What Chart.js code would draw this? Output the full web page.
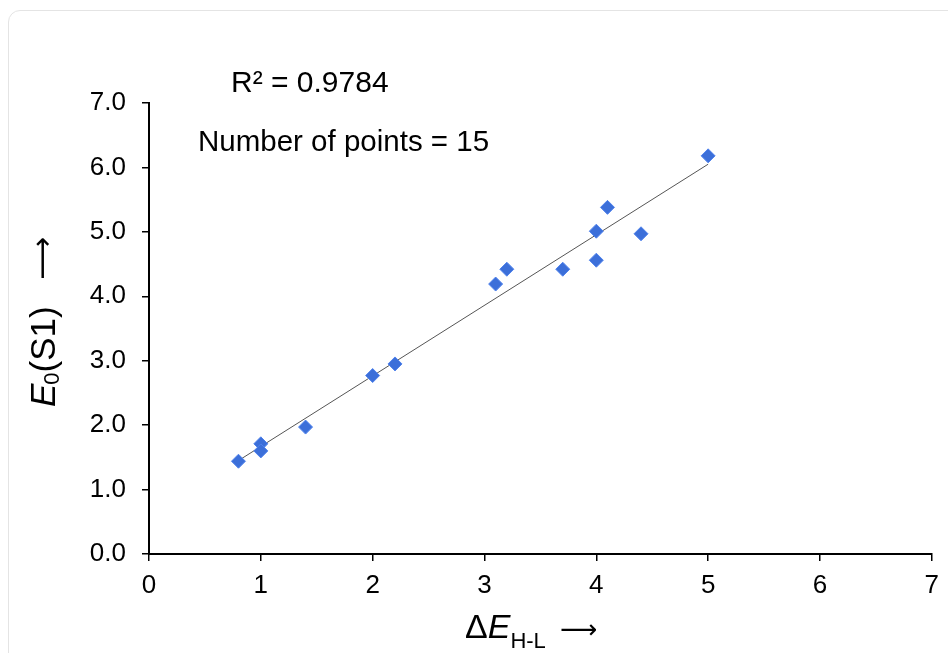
<!DOCTYPE html>
<html>
<head>
<meta charset="utf-8">
<script src="https://cdn.jsdelivr.net/npm/chart.js@4.4.0/dist/chart.umd.min.js"></script>
<style>
  html, body { margin: 0; padding: 0; background: #fff; overflow: hidden; }
  .card { position: absolute; left: 8px; top: 10px; width: 980px; height: 700px;
          border: 1px solid #e4e4e4; border-radius: 12px; }
  #wrap { position: absolute; left: 0; top: 0; width: 948px; height: 653px; }
</style>
</head>
<body>
<div class="card"></div>
<div id="wrap"><canvas id="chart" width="948" height="653"></canvas></div>
<script>
// data
const deltaE = [0.8, 1.0, 1.0, 1.4, 2.0, 2.2, 3.1, 3.2, 3.7, 4.0, 4.0, 4.1, 4.4, 5.0];
const e0S1   = [1.44, 1.71, 1.60, 1.97, 2.77, 2.95, 4.19, 4.42, 4.42, 4.56, 5.01, 5.38, 4.97, 6.18];
// trendline end points as drawn
const trendX = [0.8, 5.0];
const trendY = [1.45, 6.05];
const rSquared = '0.9784';
const nPoints = 15;

const FONT = "'Liberation Sans', Arial, Helvetica, sans-serif";
Chart.defaults.font.family = FONT;
Chart.defaults.color = '#000';

// draw the annotation texts and the axis titles (mixed italic / subscript)
const labelsPlugin = {
    id: 'labels',
    afterDraw(chart) {
        const ctx = chart.ctx;
        ctx.save();
        ctx.fillStyle = '#000';
        ctx.textBaseline = 'alphabetic';
        ctx.textAlign = 'left';
        ctx.font = '30px ' + FONT;
        ctx.fillText('R² = ' + rSquared, 231, 92);
        ctx.font = '29.5px ' + FONT;
        ctx.fillText('Number of points = ' + nPoints, 198, 151);

        // x title
        let x = 465, y = 638;
        ctx.font = '34px ' + FONT;
        ctx.fillText('Δ', x, y); x += ctx.measureText('Δ').width;
        ctx.font = 'italic 34px ' + FONT;
        ctx.fillText('E', x, y); x += ctx.measureText('E').width;
        ctx.font = '22px ' + FONT;
        ctx.fillText('H-L', x, y + 10);
        ctx.font = '26px DejaVu Sans';
        ctx.fillText('⟶', 560, y);

        // y title, rotated
        ctx.translate(55, 407);
        ctx.rotate(-Math.PI / 2);
        x = 0; y = 0;
        ctx.font = 'italic 35px ' + FONT;
        ctx.fillText('E', x, y); x += ctx.measureText('E').width - 1;
        ctx.font = '22px ' + FONT;
        ctx.fillText('0', x, y + 4); x += ctx.measureText('0').width;
        ctx.font = '35px ' + FONT;
        ctx.fillText('(S1)', x, y);
        ctx.font = '30px DejaVu Sans';
        ctx.fillText('⟶', 127, -3);
        ctx.restore();
    }
};

new Chart(document.getElementById('chart'), {
    type: 'scatter',
    data: {
        datasets: [
            {
                label: 'E0(S1)',
                data: deltaE.map((v, i) => ({ x: v, y: e0S1[i] })),
                pointStyle: 'rectRot',
                pointRadius: 7,
                pointBackgroundColor: '#3c6fd9',
                pointBorderColor: '#4f82ec',
                pointBorderWidth: 1,
                order: 1
            },
            {
                label: 'trend',
                type: 'line',
                data: trendX.map((v, i) => ({ x: v, y: trendY[i] })),
                borderColor: '#555',
                borderWidth: 1,
                pointRadius: 0,
                order: 2
            }
        ]
    },
    options: {
        responsive: false,
        animation: false,
        events: [],
        layout: { padding: { top: 103, right: 13, left: 0, bottom: 0 } },
        plugins: { legend: { display: false }, tooltip: { enabled: false } },
        scales: {
            x: {
                type: 'linear', min: 0, max: 7,
                afterFit(scale) { scale.height = 99; },
                ticks: { stepSize: 1, padding: 9, font: { size: 26 }, color: '#000' },
                grid: { drawOnChartArea: false, drawTicks: true, tickLength: 7, color: '#000', lineWidth: 1.5 },
                border: { color: '#000', width: 2 }
            },
            y: {
                type: 'linear', min: 0, max: 7,
                afterFit(scale) { scale.width = 149; },
                ticks: { stepSize: 1, padding: 16, font: { size: 26 }, color: '#000',
                         callback: v => v.toFixed(1) },
                grid: { drawOnChartArea: false, drawTicks: true, tickLength: 7, color: '#000', lineWidth: 1.5 },
                border: { color: '#000', width: 2 }
            }
        }
    },
    plugins: [labelsPlugin]
});
</script>
</body>
</html>
